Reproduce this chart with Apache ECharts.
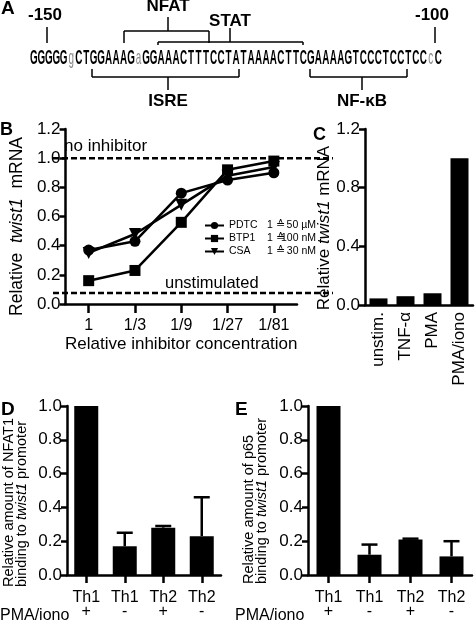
<!DOCTYPE html>
<html><head><meta charset="utf-8">
<script src="https://cdn.jsdelivr.net/npm/echarts@6/dist/echarts.min.js"></script>
<style>html,body{margin:0;padding:0;background:#fff}#c{width:475px;height:620px}</style>
</head><body><div id="c"></div>
<script>
// ---- Panel A (promoter sequence) ----
const sequence = "GGGGGgCTGGAAAGaGGAAACTTTCCTATAAAACTTCGAAAAGTCCCTCCTCCcC";
// ---- Panel B ----
const concCategories = ['1', '1/3', '1/9', '1/27', '1/81'];
const pdtc = [0.37, 0.43, 0.76, 0.85, 0.90];
const btp1 = [0.16, 0.23, 0.56, 0.92, 0.98];
const csa  = [0.35, 0.48, 0.68, 0.88, 0.94];
const legendConc = { PDTC: '50 µM', BTP1: '100 nM', CSA: '30 nM' };
const noInhibitorLevel = 1.0;
const unstimulatedLevel = 0.075;
// ---- Panel C ----
const stimCategories = ['unstim.', 'TNF-α', 'PMA', 'PMA/iono'];
const stimValues = [0.045, 0.06, 0.08, 1.0];
// ---- Panel D / E ----
const chipCategories = ['Th1\n+', 'Th1\n-', 'Th2\n+', 'Th2\n-'];
const nfat1Mean = [1.0, 0.17, 0.28, 0.23];
const nfat1Upper = [1.0, 0.25, 0.29, 0.46];
const p65Mean = [1.0, 0.12, 0.21, 0.11];
const p65Upper = [1.0, 0.18, 0.215, 0.20];

const FONT = "'Liberation Sans', Arial, sans-serif";
const AX = { lineStyle: { color: '#000', width: 2.5 } };
const TICK = { show: true, length: 6, lineStyle: { color: '#000', width: 2.5 } };
const LBL = (size) => ({ color: '#000', fontFamily: FONT, fontSize: size });

function errItem(params, api) {
  const x = api.value(0), m = api.value(1), e = api.value(2);
  if (e <= m) return null;
  const p0 = api.coord([x, m]), p1 = api.coord([x, e]);
  const hw = 8;
  return { type: 'group', children: [
    { type: 'line', shape: { x1: p0[0], y1: p0[1], x2: p1[0], y2: p1[1] }, style: { stroke: '#000', lineWidth: 2.5 } },
    { type: 'line', shape: { x1: p1[0] - hw, y1: p1[1], x2: p1[0] + hw, y2: p1[1] }, style: { stroke: '#000', lineWidth: 2.5 } }
  ]};
}

// Panel A graphics
const seqGraphics = [];
const pitch = 7.49, x0 = 33.75, seqY = 58;
for (let i = 0; i < sequence.length; i++) {
  const ch = sequence[i];
  const lower = ch !== ch.toUpperCase();
  seqGraphics.push({ type: 'text', x: x0 + pitch * i, y: seqY, scaleX: 0.47,
    style: { text: ch, fontFamily: FONT, fontSize: 21, fontWeight: lower ? 'normal' : 'bold', fill: lower ? '#8a8a8a' : '#000',
      textAlign: 'center', textVerticalAlign: 'middle' } });
}
const L = (x1, y1, x2, y2) => ({ type: 'line', shape: { x1, y1, x2, y2 }, style: { stroke: '#000', lineWidth: 1.5 } });
const T = (text, x, y, size, bold, align, rot) => ({ type: 'text', x, y, rotation: rot || 0,
  style: { text, fontFamily: FONT, fontSize: size, fontWeight: bold ? 'bold' : 'normal', fill: '#000',
    textAlign: align || 'center', textVerticalAlign: 'middle' } });
const yName = (line1, x, y) => ({ type: 'text', x, y, rotation: Math.PI / 2,
  style: { text: line1 + '\n{n|binding to }{i|twist1}{n| promoter}', fontFamily: FONT, fontSize: 14.5, lineHeight: 13, fill: '#000',
    textAlign: 'left', textVerticalAlign: 'middle',
    rich: { n: { fontFamily: FONT, fontSize: 14.5, lineHeight: 13 }, i: { fontFamily: FONT, fontSize: 14.5, fontStyle: 'italic', lineHeight: 13 } } } });

const graphics = [
  ...seqGraphics,
  T('A', 1, 9, 19, true, 'left'),
  T('-150', 45, 15, 17, true), L(47, 27, 47, 43),
  T('-100', 432, 15, 17, true), L(435, 27, 435, 43),
  T('NFAT', 168, 6, 17, true), L(168, 17, 168, 31), L(124, 31, 209, 31), L(124, 31, 124, 43), L(209, 31, 209, 43),
  T('STAT', 230, 21, 17, true), L(230, 28, 230, 42), L(158, 42, 303, 42), L(158, 42, 158, 45), L(303, 42, 303, 45),
  L(92, 77, 239, 77), L(92, 77, 92, 69), L(239, 77, 239, 69), L(168, 77, 168, 90), T('ISRE', 168, 101, 17, true),
  L(310, 77, 407, 77), L(310, 77, 310, 69), L(407, 77, 407, 69), L(362, 77, 362, 90), T('NF-κB', 362, 101, 17, true),
  T('B', 0, 130, 18, true, 'left'),
  T('C', 313, 135, 18, true, 'left'),
  T('D', 1, 410, 19, true, 'left'),
  T('E', 235, 410, 19, true, 'left'),
  T('no inhibitor', 64, 146, 17, false, 'left'),
  T('unstimulated', 165, 283, 16.5, false, 'left'),
  T('PMA/iono', 0, 616, 16, false, 'left'),
  T('PMA/iono', 235, 616, 16, false, 'left'),
  yName('Relative amount of NFAT1', 15, 587),
  yName('Relative amount of p65', 255, 584)
];

const lineSeries = (name, data, symbol, size, rot) => ({
  name, type: 'line', xAxisIndex: 0, yAxisIndex: 0, data, symbol, symbolSize: size, symbolRotate: rot || 0,
  lineStyle: { color: '#000', width: 2.5 }, itemStyle: { color: '#000' }, z: 5
});

const richName = (size) => ({ ...LBL(size), rich: { i: { fontStyle: 'italic', fontSize: size, fontFamily: FONT } } });

const option = {
  animation: false,
  textStyle: { fontFamily: FONT },
  graphic: graphics,
  legend: {
    left: 199, top: 215, orient: 'vertical', itemGap: 2, itemWidth: 19, itemHeight: 9,
    data: ['PDTC', 'BTP1', 'CSA'],
    formatter: n => `{n|${n}}{e|1 ≙}{u|${legendConc[n]}}`,
    textStyle: { color: '#000', fontSize: 10.5, fontFamily: FONT,
      rich: { n: { width: 38, fontSize: 10.5 }, e: { width: 18, fontSize: 10.5 }, u: { width: 31, align: 'right', fontSize: 10.5 } } }
  },
  grid: [
    { left: 53, top: 129, width: 244, height: 175 },
    { left: 53, top: 129, width: 280, height: 175 },
    { left: 365, top: 129, width: 108, height: 176 },
    { left: 67, top: 406, width: 154, height: 178 },
    { left: 308, top: 406, width: 164, height: 178 }
  ],
  xAxis: [
    { gridIndex: 0, type: 'category', data: concCategories, axisLine: AX, axisTick: { ...TICK, length: 9, alignWithLabel: true },
      axisLabel: { ...LBL(16), margin: 14 }, name: 'Relative inhibitor concentration', nameLocation: 'middle', nameGap: 32,
      nameTextStyle: LBL(17) },
    { gridIndex: 1, type: 'value', min: 0, max: 1, show: false },
    { gridIndex: 2, type: 'category', data: stimCategories, axisLine: AX, axisTick: { show: false },
      axisLabel: { ...LBL(17), rotate: 90, margin: 7 } },
    { gridIndex: 3, type: 'category', data: chipCategories, axisLine: AX, axisTick: { ...TICK, length: 8, alignWithLabel: true },
      axisLabel: { ...LBL(16), margin: 16, lineHeight: 14 } },
    { gridIndex: 4, type: 'category', data: chipCategories, axisLine: AX, axisTick: { ...TICK, length: 8, alignWithLabel: true },
      axisLabel: { ...LBL(16), margin: 16, lineHeight: 14 } }
  ],
  yAxis: [
    { gridIndex: 0, type: 'value', min: 0, max: 1.2, interval: 0.2, axisLine: { show: true, ...AX }, axisTick: TICK,
      splitLine: { show: false }, axisLabel: { ...LBL(17), formatter: v => v.toFixed(1), margin: 5 },
      name: 'Relative  {i|twist1}  mRNA', nameLocation: 'middle', nameGap: 39,
      nameTextStyle: { ...richName(17.5), padding: [0, 20, 0, 0] } },
    { gridIndex: 1, type: 'value', min: 0, max: 1.2, show: false },
    { gridIndex: 2, type: 'value', min: 0, max: 1.2, interval: 0.4, axisLine: { show: true, ...AX }, axisTick: TICK,
      splitLine: { show: false }, axisLabel: { ...LBL(17), formatter: v => v.toFixed(1), margin: 5 },
      name: 'Relative {i|twist1} mRNA', nameLocation: 'middle', nameGap: 30,
      nameTextStyle: { ...richName(17), padding: [0, 22, 0, 0] } },
    { gridIndex: 3, type: 'value', min: 0, max: 1, interval: 0.2, axisLine: { show: true, ...AX }, axisTick: TICK,
      splitLine: { show: false }, axisLabel: { ...LBL(17), formatter: v => v.toFixed(1), margin: 5 } },
    { gridIndex: 4, type: 'value', min: 0, max: 1, interval: 0.2, axisLine: { show: true, ...AX }, axisTick: TICK,
      splitLine: { show: false }, axisLabel: { ...LBL(17), formatter: v => v.toFixed(1), margin: 5 } }
  ],
  series: [
    { type: 'line', xAxisIndex: 1, yAxisIndex: 1, data: [[0, noInhibitorLevel], [1, noInhibitorLevel]], symbol: 'none',
      lineStyle: { color: '#000', width: 2.5, type: [6, 3] }, z: 3 },
    { type: 'line', xAxisIndex: 1, yAxisIndex: 1, data: [[0, unstimulatedLevel], [1, unstimulatedLevel]], symbol: 'none',
      lineStyle: { color: '#000', width: 2.5, type: [6, 3] }, z: 3 },
    lineSeries('BTP1', btp1, 'rect', 11),
    lineSeries('CSA', csa, 'triangle', 12, 180),
    lineSeries('PDTC', pdtc, 'circle', 11),
    { type: 'bar', xAxisIndex: 2, yAxisIndex: 2, data: stimValues, barWidth: 18, itemStyle: { color: '#000' } },
    { type: 'bar', xAxisIndex: 3, yAxisIndex: 3, data: nfat1Mean, barWidth: 24, itemStyle: { color: '#000' } },
    { type: 'custom', xAxisIndex: 3, yAxisIndex: 3, renderItem: errItem,
      data: nfat1Mean.map((m, i) => [i, m, nfat1Upper[i]]), z: 4 },
    { type: 'bar', xAxisIndex: 4, yAxisIndex: 4, data: p65Mean, barWidth: 24, itemStyle: { color: '#000' } },
    { type: 'custom', xAxisIndex: 4, yAxisIndex: 4, renderItem: errItem,
      data: p65Mean.map((m, i) => [i, m, p65Upper[i]]), z: 4 }
  ]
};
const chart = echarts.init(document.getElementById('c'), null, { renderer: 'canvas' });
chart.setOption(option);
</script></body></html>
